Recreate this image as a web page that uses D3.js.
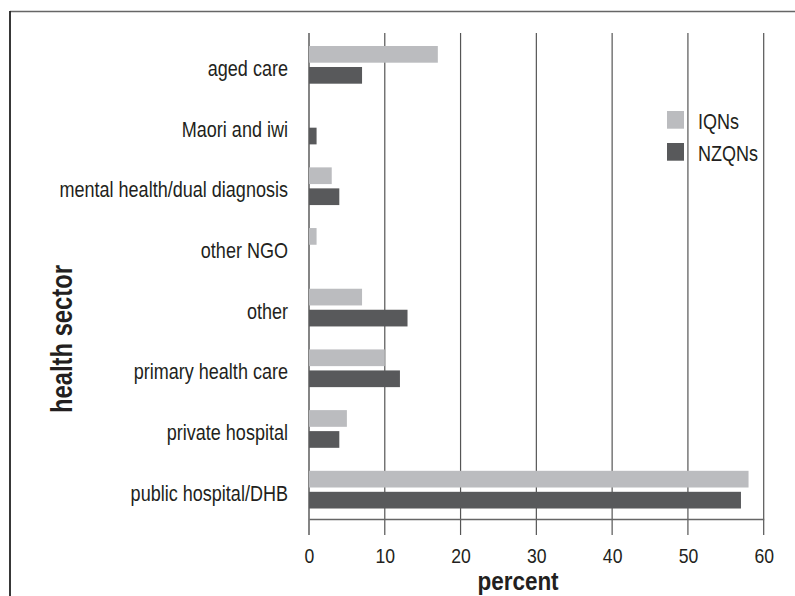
<!DOCTYPE html>
<html>
<head>
<meta charset="utf-8">
<script src="https://cdn.jsdelivr.net/npm/d3@7"></script>
<style>
  body { margin: 0; background: #fff; }
  text { font-family: "Liberation Sans", Arial, sans-serif; fill: #231f20; }
</style>
</head>
<body>
<script>
const categories = [
  "aged care",
  "Maori and iwi",
  "mental health/dual diagnosis",
  "other NGO",
  "other",
  "primary health care",
  "private hospital",
  "public hospital/DHB",
];
const series = ["IQNs", "NZQNs"];
const iqn = [17, 0, 3, 1, 7, 10, 5, 58];
const nzqn = [7, 1, 4, 0, 13, 12, 4, 57];
const xTicks = [0, 10, 20, 30, 40, 50, 60];

const w = 795;
const h = 596;
const colors = ["#bbbcbf", "#58595b"];
const narrow = 0.82; // the scan uses a condensed face, squeeze text to match

const svg = d3.select("body").append("svg").attr("width", w).attr("height", h);

// frame (top and left only, like the scan)
svg.append("line").attr("x1", 10).attr("x2", w).attr("y1", 11.5).attr("y2", 11.5)
  .attr("stroke", "#666").attr("stroke-width", 1.6);
svg.append("line").attr("x1", 10).attr("x2", 10).attr("y1", 11).attr("y2", h)
  .attr("stroke", "#222").attr("stroke-width", 1.8);

const xScale = d3.scaleLinear().domain([0, 60]).range([309, 763.7]);
const yScale = d3.scaleBand().domain(categories).range([34.5, 520]);

const barH = 16.7;
const gap = 4.3;

// gridlines, running down past the axis as ticks
svg.append("g")
  .selectAll("line")
  .data(xTicks)
  .enter()
  .append("line")
  .attr("x1", (d) => xScale(d))
  .attr("x2", (d) => xScale(d))
  .attr("y1", 33)
  .attr("y2", 535)
  .attr("stroke", (d) => (d === 0 ? "#333" : "#555"))
  .attr("stroke-width", 1.2);

// bars
const rows = categories.map((c, i) => ({ c, v: [iqn[i], nzqn[i]] }));
const groups = svg.append("g").selectAll("g").data(rows).enter().append("g");

groups.selectAll("rect")
  .data((d) => d.v.map((v, k) => ({ c: d.c, v, k })))
  .enter()
  .append("rect")
  .attr("x", xScale(0))
  .attr("y", (d) => {
    const mid = yScale(d.c) + yScale.bandwidth() / 2;
    return d.k === 0 ? mid - gap / 2 - barH : mid + gap / 2;
  })
  .attr("width", (d) => xScale(d.v) - xScale(0))
  .attr("height", barH)
  .attr("fill", (d) => colors[d.k]);

// category labels
svg.append("g")
  .selectAll("text")
  .data(categories)
  .enter()
  .append("text")
  .text((d) => d)
  .attr("transform", (d) => `translate(288,${yScale(d) + yScale.bandwidth() / 2 + 11}) scale(${narrow},1)`)
  .attr("text-anchor", "end")
  .attr("font-size", 22);

// bottom axis
const xAxis = d3.axisBottom(xScale).tickValues(xTicks).tickSizeInner(16).tickSizeOuter(0).tickPadding(14);
const ax = svg.append("g").attr("transform", "translate(0,519)").call(xAxis);
ax.select(".domain").attr("stroke", "#666").attr("stroke-width", 1.4);
ax.selectAll(".tick line").remove();
ax.selectAll(".tick text")
  .attr("font-size", 20)
  .attr("font-family", "Liberation Sans, Arial, sans-serif")
  .attr("fill", "#231f20")
  .attr("transform", `scale(0.88,1)`);

// axis titles
svg.append("text")
  .text("percent")
  .attr("transform", `translate(518,590) scale(0.9,1)`)
  .attr("text-anchor", "middle")
  .attr("font-size", 25)
  .attr("font-weight", "bold");

svg.append("text")
  .text("health sector")
  .attr("transform", `translate(72,339) rotate(-90) scale(${narrow},1)`)
  .attr("text-anchor", "middle")
  .attr("font-size", 29)
  .attr("font-weight", "bold");

// legend
const legend = svg.append("g").selectAll("g").data(series).enter().append("g")
  .attr("transform", (d, i) => `translate(667,${111 + i * 32})`);
legend.append("rect").attr("width", 17).attr("height", 17.7).attr("fill", (d, i) => colors[i]);
legend.append("text").text((d) => d)
  .attr("transform", `translate(31,17.5) scale(${narrow},1)`)
  .attr("font-size", 22);
</script>
</body>
</html>
